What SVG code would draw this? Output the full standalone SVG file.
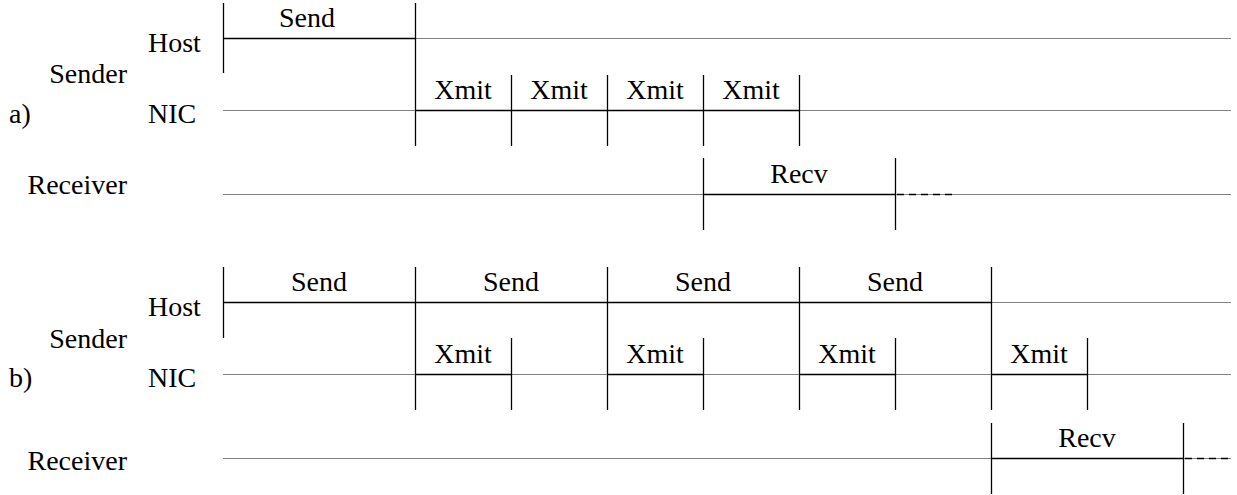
<svg xmlns="http://www.w3.org/2000/svg" width="1237" height="495" viewBox="0 0 1237 495">
  <style>
    text { font-family: 'Liberation Serif', 'Times New Roman', Times, 'DejaVu Serif', serif; font-size: 28px; fill: #000; }
    .mid { text-anchor: middle; }
    .end { text-anchor: end; }
    .axis { stroke: #808080; stroke-width: 1; fill: none; }
    .busy { stroke: #000; stroke-width: 1.6; fill: none; }
    .tick { stroke: #000; stroke-width: 1.3; fill: none; }
    .more { stroke: #000; stroke-width: 1.3; stroke-dasharray: 7 5; fill: none; }
  </style>

  <!-- Panel a: a single send followed by four transmissions -->
  <g id="panel-a" font-family="Liberation Serif, Times New Roman, serif">
    <g id="a-labels">
      <text x="9" y="123">a)</text>
      <text class="end" x="127" y="83">Sender</text>
      <text x="148" y="51.5">Host</text>
      <text x="148" y="123">NIC</text>
      <text class="end" x="127" y="194">Receiver</text>
    </g>
    <g id="a-host">
      <line class="axis" x1="223" y1="38.5" x2="1231" y2="38.5"/>
      <line class="busy" x1="223" y1="38.5" x2="415" y2="38.5"/>
      <line class="tick" x1="223.5" y1="3" x2="223.5" y2="73"/>
      <line class="tick" x1="415.5" y1="3" x2="415.5" y2="146"/>
      <text class="mid" x="307" y="27">Send</text>
    </g>
    <g id="a-nic">
      <line class="axis" x1="223" y1="110.5" x2="1231" y2="110.5"/>
      <line class="busy" x1="415" y1="110.5" x2="799" y2="110.5"/>
      <line class="tick" x1="511.5" y1="75" x2="511.5" y2="146"/>
      <line class="tick" x1="607.5" y1="75" x2="607.5" y2="146"/>
      <line class="tick" x1="703.5" y1="75" x2="703.5" y2="146"/>
      <line class="tick" x1="799.5" y1="75" x2="799.5" y2="146"/>
      <text class="mid" x="463" y="99">Xmit</text>
      <text class="mid" x="559" y="99">Xmit</text>
      <text class="mid" x="655" y="99">Xmit</text>
      <text class="mid" x="751" y="99">Xmit</text>
    </g>
    <g id="a-receiver">
      <line class="axis" x1="223" y1="194.5" x2="1231" y2="194.5"/>
      <line class="busy" x1="703" y1="194.5" x2="895" y2="194.5"/>
      <line class="more" x1="897" y1="194.5" x2="956" y2="194.5"/>
      <line class="tick" x1="703.5" y1="158" x2="703.5" y2="230"/>
      <line class="tick" x1="895.5" y1="158" x2="895.5" y2="230"/>
      <text class="mid" x="799" y="183">Recv</text>
    </g>
  </g>

  <!-- Panel b: sends and transmissions overlapped -->
  <g id="panel-b" font-family="Liberation Serif, Times New Roman, serif">
    <g id="b-labels">
      <text x="9" y="387">b)</text>
      <text class="end" x="127" y="348">Sender</text>
      <text x="148" y="315.5">Host</text>
      <text x="148" y="387">NIC</text>
      <text class="end" x="127" y="470">Receiver</text>
    </g>
    <g id="b-host">
      <line class="axis" x1="223" y1="302.5" x2="1231" y2="302.5"/>
      <line class="busy" x1="223" y1="302.5" x2="991" y2="302.5"/>
      <line class="tick" x1="223.5" y1="267" x2="223.5" y2="338"/>
      <line class="tick" x1="415.5" y1="267" x2="415.5" y2="410"/>
      <line class="tick" x1="607.5" y1="267" x2="607.5" y2="410"/>
      <line class="tick" x1="799.5" y1="267" x2="799.5" y2="410"/>
      <line class="tick" x1="991.5" y1="267" x2="991.5" y2="410"/>
      <text class="mid" x="319" y="291">Send</text>
      <text class="mid" x="511" y="291">Send</text>
      <text class="mid" x="703" y="291">Send</text>
      <text class="mid" x="895" y="291">Send</text>
    </g>
    <g id="b-nic">
      <line class="axis" x1="223" y1="374.5" x2="1231" y2="374.5"/>
      <line class="busy" x1="415" y1="374.5" x2="511" y2="374.5"/>
      <line class="busy" x1="607" y1="374.5" x2="703" y2="374.5"/>
      <line class="busy" x1="799" y1="374.5" x2="895" y2="374.5"/>
      <line class="busy" x1="991" y1="374.5" x2="1087" y2="374.5"/>
      <line class="tick" x1="511.5" y1="338" x2="511.5" y2="410"/>
      <line class="tick" x1="703.5" y1="338" x2="703.5" y2="410"/>
      <line class="tick" x1="895.5" y1="338" x2="895.5" y2="410"/>
      <line class="tick" x1="1087.5" y1="338" x2="1087.5" y2="410"/>
      <text class="mid" x="463" y="363">Xmit</text>
      <text class="mid" x="655" y="363">Xmit</text>
      <text class="mid" x="847" y="363">Xmit</text>
      <text class="mid" x="1039" y="363">Xmit</text>
    </g>
    <g id="b-receiver">
      <line class="axis" x1="223" y1="458.5" x2="1231" y2="458.5"/>
      <line class="busy" x1="991" y1="458.5" x2="1183" y2="458.5"/>
      <line class="more" x1="1185" y1="458.5" x2="1232" y2="458.5"/>
      <line class="tick" x1="991.5" y1="423" x2="991.5" y2="494"/>
      <line class="tick" x1="1183.5" y1="423" x2="1183.5" y2="494"/>
      <text class="mid" x="1087" y="447">Recv</text>
    </g>
  </g>
</svg>
